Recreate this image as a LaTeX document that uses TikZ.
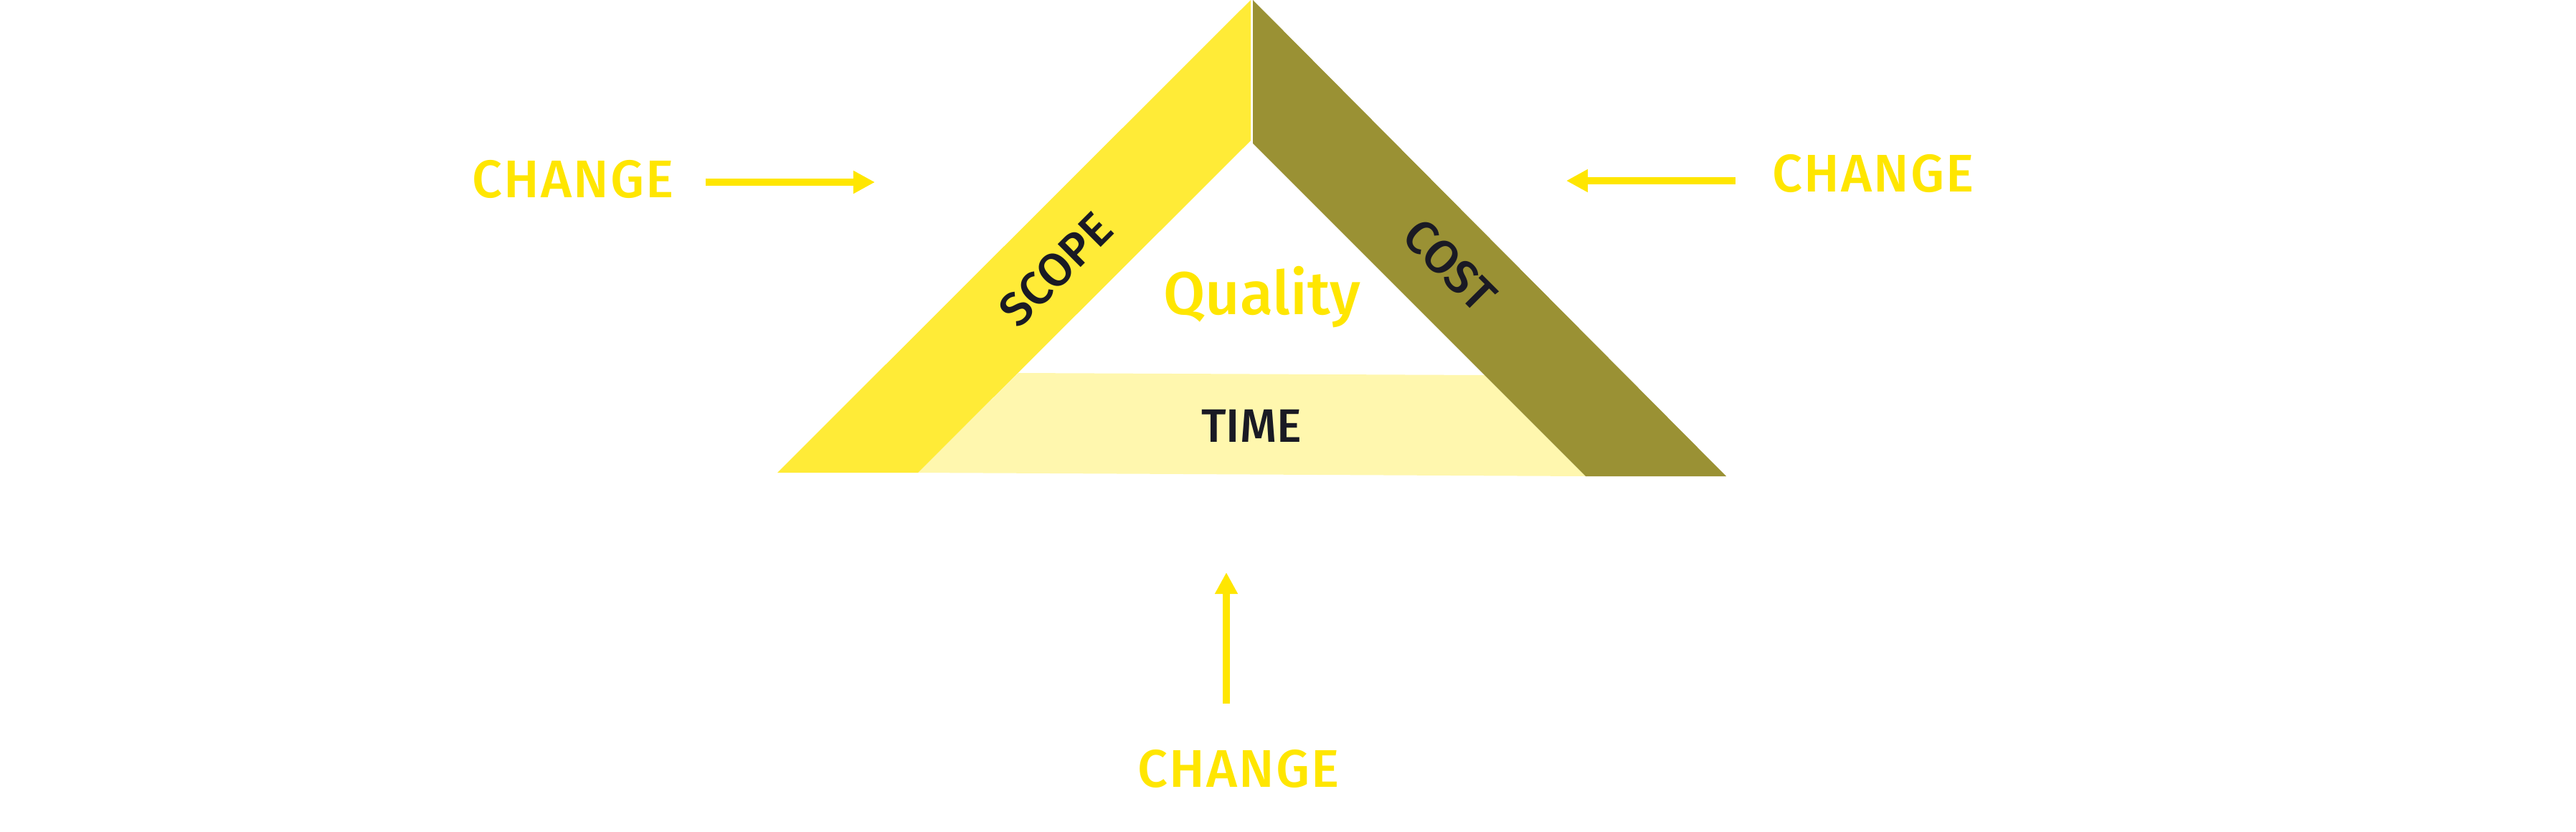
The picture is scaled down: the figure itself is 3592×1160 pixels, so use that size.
\documentclass[tikz,border=0pt]{standalone}
\usepackage{fontspec}
\setmainfont{Fira Sans}[UprightFont=* Medium]
\newfontfamily\trackedfont{Fira Sans}[UprightFont=* Medium,LetterSpace=3.0]
\usetikzlibrary{arrows.meta}
\definecolor{chgyellow}{HTML}{FFE600}
\definecolor{scopeyellow}{HTML}{FFEB37}
\definecolor{costolive}{HTML}{9A9134}
\definecolor{timepale}{HTML}{FFF7AE}
\definecolor{inkdark}{HTML}{1A1A24}
\begin{document}
\begin{tikzpicture}[x=0.01cm,y=-0.01cm,inner sep=0pt,outer sep=0pt,
changelbl/.style={text=chgyellow,font=\trackedfont\fontsize{21pt}{25pt}\selectfont,anchor=base},
bandlbl/.style={text=inkdark,font=\fontsize{18.6pt}{22pt}\selectfont,anchor=base},
changearrow/.style={draw=chgyellow,line width=0.1cm,-{Triangle[length=0.3cm,width=0.3cm]}}]
\useasboundingbox (0,0) rectangle (3592,1160);
% the three bands
\fill[timepale] (1420,520) -- (2070,523) -- (2211,664) -- (1280,659) -- cycle;
\fill[scopeyellow] (1744,0) -- (1744,196) -- (1280,659) -- (1084,659) -- cycle;
\fill[costolive] (1747,0) -- (2407,664) -- (2211,664) -- (1747,200) -- cycle;
% band labels
\node[bandlbl,rotate=45] (scope) at (1488,392) {SCOPE};
\node[bandlbl,rotate=-45] (cost) at (2006,386) {COST};
\node[bandlbl] (time) at (1745,616) {TIME};
\node[changelbl,font=\fontsize{24pt}{28pt}\selectfont] (quality) at (1760,438) {Quality};
% change labels and arrows
\node[changelbl] (chgscope) at (799,275) {CHANGE};
\node[changelbl] (chgcost) at (2612,267) {CHANGE};
\node[changelbl] (chgtime) at (1727,1097) {CHANGE};
\coordinate (scopetip) at (1220,254);
\coordinate (costtip) at (2184,252);
\coordinate (timetip) at (1710,798);
\draw[changearrow] (chgscope.east |- scopetip) ++(44,0) -- (scopetip);
\draw[changearrow] (chgcost.west |- costtip) ++(-51,0) -- (costtip);
\draw[changearrow] (chgtime.north -| timetip) ++(0,-64) -- (timetip);
\end{tikzpicture}
\end{document}
